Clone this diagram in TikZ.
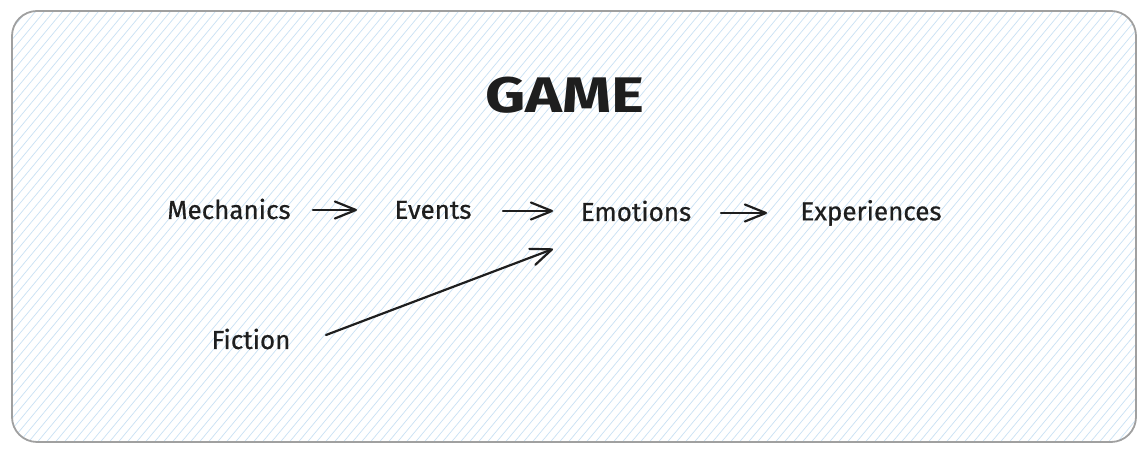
\documentclass[tikz,border=0pt]{standalone}
\usepackage{fontspec}
\setmainfont{Fira Sans}
\newfontfamily\labelfont{Fira Sans}[FakeBold=0.6]
\usetikzlibrary{arrows.meta}
\definecolor{hatch}{HTML}{C9E1F4}
\definecolor{frame}{HTML}{A0A0A0}
\definecolor{ink}{HTML}{1E1E1E}
\tikzset{
  lbl/.style={inner sep=0pt, text=ink, font=\labelfont\fontsize{26}{30}\selectfont},
  flow/.style={draw=ink, line width=2.2pt, line cap=round, -{Straight Barb[length=21pt, width=17pt, line width=2.2pt, round]}}
}
\begin{document}
\begin{tikzpicture}[x=1pt,y=1pt]
\useasboundingbox (0,0) rectangle (1146,457);
\fill[white] (0,0) rectangle (1146,457);
\begin{scope}
\clip[rounded corners=25pt] (12,15) rectangle (1136,446);
\fill[white] (0,0) rectangle (1146,457);
\foreach \i in {-560,-551,...,1150} {
  \draw[hatch, line width=0.7pt] (\i,0) -- (\i+380,457);
}
\end{scope}
\draw[frame, line width=1.8pt, rounded corners=25pt] (12,15) rectangle (1136,446);
\node[lbl, font=\bfseries\fontsize{50}{54}\selectfont, xscale=1.25] (game) at (565,362) {GAME};
\node[lbl] (mech) at (229,248) {Mechanics};
\node[lbl] (events) at (433,247) {Events};
\node[lbl] (emo) at (636,246) {Emotions};
\node[lbl] (exp) at (871,244) {Experiences};
\node[lbl] (fic) at (251,118) {Fiction};
\coordinate (a1s) at (313,247);
\coordinate (a1e) at (357,247);
\coordinate (a2s) at (503,246);
\coordinate (a2e) at (553,246);
\coordinate (a3s) at (721,244);
\coordinate (a3e) at (767,244);
\coordinate (a4s) at (326,122);
\coordinate (a4e) at (553,208);
\draw[flow] (a1s) -- (a1e);
\draw[flow] (a2s) -- (a2e);
\draw[flow] (a3s) -- (a3e);
\draw[flow] (a4s) -- (a4e);
\end{tikzpicture}
\end{document}
